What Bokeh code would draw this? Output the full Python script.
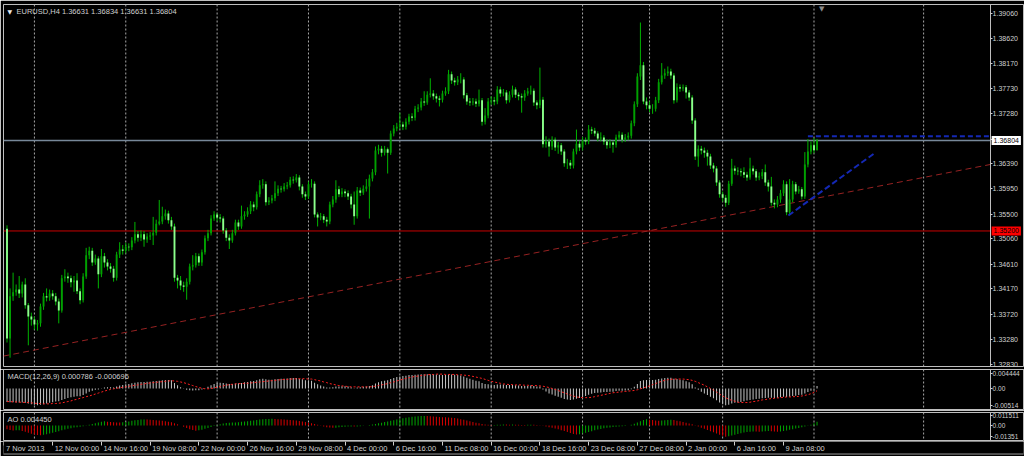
from bokeh.plotting import figure
from bokeh.models import (Range1d, FixedTicker, NumeralTickFormatter, Span, Label,
                          LinearAxis, ColumnDataSource, CustomJSTickFormatter)
from bokeh.layouts import column
from bokeh.embed import file_html
from bokeh.resources import INLINE
from bokeh.core.properties import value

# ---------------- data ----------------
symbol = "EURUSD,H4"

closes = [
    1.3329, 1.3404, 1.3411, 1.3416, 1.3409, 1.3425, 1.3388, 1.3368, 1.3363, 1.3354,
    1.3356, 1.3386, 1.3404, 1.3402, 1.3409, 1.3404, 1.3395, 1.3379, 1.3436, 1.3439,
    1.3436, 1.3429, 1.3432, 1.3413, 1.3397, 1.3439, 1.3477, 1.3485, 1.3464, 1.3471,
    1.3443, 1.3475, 1.3464, 1.3457, 1.3453, 1.3437, 1.3478, 1.3487, 1.3485, 1.3492,
    1.3491, 1.3503, 1.3514, 1.3508, 1.3514, 1.3505, 1.3510, 1.3512, 1.3517, 1.3533,
    1.3537, 1.3546, 1.3551, 1.3539, 1.3528, 1.3437, 1.3432, 1.3423, 1.3421, 1.3430,
    1.3457, 1.3459, 1.3475, 1.3464, 1.3482, 1.3507, 1.3516, 1.3542, 1.3549, 1.3544,
    1.3542, 1.3521, 1.3508, 1.3503, 1.3516, 1.3535, 1.3528, 1.3546, 1.3549, 1.3555,
    1.3567, 1.3562, 1.3585, 1.3601, 1.3603, 1.3571, 1.3574, 1.3578, 1.3587, 1.3595,
    1.3594, 1.3599, 1.3601, 1.3611, 1.3610, 1.3615, 1.3599, 1.3585, 1.3581, 1.3603,
    1.3604, 1.3549, 1.3544, 1.3546, 1.3540, 1.3537, 1.3567, 1.3576, 1.3594, 1.3585,
    1.3590, 1.3587, 1.3581, 1.3567, 1.3546, 1.3592, 1.3588, 1.3595, 1.3599, 1.3613,
    1.3624, 1.3663, 1.3666, 1.3659, 1.3665, 1.3659, 1.3693, 1.3702, 1.3705, 1.3709,
    1.3705, 1.3714, 1.3723, 1.3721, 1.3737, 1.3739, 1.3750, 1.3748, 1.3762, 1.3764,
    1.3759, 1.3755, 1.3753, 1.3764, 1.3768, 1.3798, 1.3787, 1.3784, 1.3789, 1.3789,
    1.3761, 1.3750, 1.3748, 1.3750, 1.3746, 1.3752, 1.3714, 1.3725, 1.3750, 1.3752,
    1.3750, 1.3771, 1.3764, 1.3766, 1.3752, 1.3762, 1.3771, 1.3762, 1.3759, 1.3757,
    1.3764, 1.3768, 1.3769, 1.3748, 1.3743, 1.3753, 1.3674, 1.3679, 1.3670, 1.3682,
    1.3668, 1.3672, 1.3661, 1.3640, 1.3641, 1.3636, 1.3661, 1.3675, 1.3668, 1.3681,
    1.3679, 1.3700, 1.3698, 1.3693, 1.3684, 1.3686, 1.3679, 1.3672, 1.3677, 1.3673,
    1.3686, 1.3691, 1.3682, 1.3686, 1.3689, 1.3711, 1.3745, 1.3794, 1.3814, 1.3750,
    1.3743, 1.3737, 1.3737, 1.3752, 1.3784, 1.3796, 1.3800, 1.3803, 1.3796, 1.3752,
    1.3775, 1.3773, 1.3775, 1.3766, 1.3757, 1.3716, 1.3652, 1.3666, 1.3663, 1.3659,
    1.3652, 1.3636, 1.3631, 1.3606, 1.3585, 1.3579, 1.3570, 1.3604, 1.3631, 1.3627,
    1.3626, 1.3624, 1.3620, 1.3615, 1.3631, 1.3626, 1.3615, 1.3617, 1.3624, 1.3606,
    1.3599, 1.3570, 1.3567, 1.3576, 1.3587, 1.3603, 1.3553, 1.3576, 1.3603, 1.3590,
    1.3594, 1.3581, 1.3638, 1.3661, 1.3672, 1.36631, 1.36804,
]

opens = [
    1.3524, 1.3329, 1.3404, 1.3411, 1.3416, 1.3409, 1.3425, 1.3388, 1.3368, 1.3363,
    1.3354, 1.3356, 1.3386, 1.3404, 1.3402, 1.3409, 1.3404, 1.3395, 1.3379, 1.3436,
    1.3439, 1.3436, 1.3429, 1.3432, 1.3413, 1.3397, 1.3439, 1.3477, 1.3485, 1.3464,
    1.3471, 1.3443, 1.3475, 1.3464, 1.3457, 1.3453, 1.3437, 1.3478, 1.3487, 1.3485,
    1.3492, 1.3491, 1.3503, 1.3514, 1.3508, 1.3514, 1.3505, 1.3510, 1.3512, 1.3517,
    1.3533, 1.3537, 1.3546, 1.3551, 1.3539, 1.3528, 1.3437, 1.3432, 1.3423, 1.3421,
    1.3430, 1.3457, 1.3459, 1.3475, 1.3464, 1.3482, 1.3507, 1.3516, 1.3542, 1.3549,
    1.3544, 1.3542, 1.3521, 1.3508, 1.3503, 1.3516, 1.3535, 1.3528, 1.3546, 1.3549,
    1.3555, 1.3567, 1.3562, 1.3585, 1.3601, 1.3603, 1.3571, 1.3574, 1.3578, 1.3587,
    1.3595, 1.3594, 1.3599, 1.3601, 1.3611, 1.3610, 1.3615, 1.3599, 1.3585, 1.3581,
    1.3603, 1.3604, 1.3549, 1.3544, 1.3546, 1.3540, 1.3537, 1.3567, 1.3576, 1.3594,
    1.3585, 1.3590, 1.3587, 1.3581, 1.3567, 1.3546, 1.3592, 1.3588, 1.3595, 1.3599,
    1.3613, 1.3624, 1.3663, 1.3666, 1.3659, 1.3665, 1.3659, 1.3693, 1.3702, 1.3705,
    1.3709, 1.3705, 1.3714, 1.3723, 1.3721, 1.3737, 1.3739, 1.3750, 1.3748, 1.3762,
    1.3764, 1.3759, 1.3755, 1.3753, 1.3764, 1.3768, 1.3798, 1.3787, 1.3784, 1.3789,
    1.3789, 1.3761, 1.3750, 1.3748, 1.3750, 1.3746, 1.3752, 1.3714, 1.3725, 1.3750,
    1.3752, 1.3750, 1.3771, 1.3764, 1.3766, 1.3752, 1.3762, 1.3771, 1.3762, 1.3759,
    1.3757, 1.3764, 1.3768, 1.3769, 1.3748, 1.3743, 1.3753, 1.3674, 1.3679, 1.3670,
    1.3682, 1.3668, 1.3672, 1.3661, 1.3640, 1.3641, 1.3636, 1.3661, 1.3675, 1.3668,
    1.3681, 1.3679, 1.3700, 1.3698, 1.3693, 1.3684, 1.3686, 1.3679, 1.3672, 1.3677,
    1.3673, 1.3686, 1.3691, 1.3682, 1.3686, 1.3689, 1.3711, 1.3745, 1.3794, 1.3814,
    1.3750, 1.3743, 1.3737, 1.3737, 1.3752, 1.3784, 1.3796, 1.3800, 1.3803, 1.3796,
    1.3752, 1.3775, 1.3773, 1.3775, 1.3766, 1.3757, 1.3716, 1.3652, 1.3666, 1.3663,
    1.3659, 1.3652, 1.3636, 1.3631, 1.3606, 1.3585, 1.3579, 1.3570, 1.3604, 1.3631,
    1.3627, 1.3626, 1.3624, 1.3620, 1.3615, 1.3631, 1.3626, 1.3615, 1.3617, 1.3624,
    1.3606, 1.3599, 1.3570, 1.3567, 1.3576, 1.3587, 1.3603, 1.3553, 1.3576, 1.3603,
    1.3590, 1.3594, 1.3581, 1.3638, 1.3661, 1.3672, 1.36631,
]

highs = [
    1.3530, 1.3418, 1.3446, 1.3425, 1.3440, 1.3430, 1.3436, 1.3392, 1.3375, 1.3368,
    1.3362, 1.3391, 1.3410, 1.3418, 1.3416, 1.3415, 1.3410, 1.3400, 1.3442, 1.3452,
    1.3446, 1.3441, 1.3440, 1.3445, 1.3418, 1.3445, 1.3490, 1.3492, 1.3490, 1.3478,
    1.3475, 1.3488, 1.3481, 1.3470, 1.3463, 1.3458, 1.3483, 1.3500, 1.3495, 1.3499,
    1.3498, 1.3509, 1.3536, 1.3520, 1.3521, 1.3520, 1.3516, 1.3518, 1.3545, 1.3540,
    1.3575, 1.3563, 1.3558, 1.3556, 1.3545, 1.3533, 1.3442, 1.3440, 1.3430, 1.3436,
    1.3462, 1.3477, 1.3481, 1.3480, 1.3487, 1.3512, 1.3522, 1.3548, 1.3555, 1.3552,
    1.3550, 1.3546, 1.3525, 1.3514, 1.3522, 1.3540, 1.3540, 1.3565, 1.3555, 1.3562,
    1.3573, 1.3572, 1.3590, 1.3610, 1.3612, 1.3608, 1.3580, 1.3584, 1.3608, 1.3601,
    1.3600, 1.3605, 1.3607, 1.3616, 1.3617, 1.3621, 1.3619, 1.3603, 1.3590, 1.3608,
    1.3612, 1.3608, 1.3553, 1.3552, 1.3550, 1.3545, 1.3572, 1.3582, 1.3610, 1.3600,
    1.3596, 1.3594, 1.3592, 1.3586, 1.3590, 1.3598, 1.3597, 1.3601, 1.3612, 1.3620,
    1.3630, 1.3670, 1.3673, 1.3671, 1.3671, 1.3668, 1.3698, 1.3708, 1.3712, 1.3730,
    1.3714, 1.3720, 1.3728, 1.3729, 1.3742, 1.3745, 1.3756, 1.3768, 1.3768, 1.3791,
    1.3770, 1.3764, 1.3760, 1.3769, 1.3775, 1.3806, 1.3803, 1.3792, 1.3795, 1.3800,
    1.3793, 1.3765, 1.3756, 1.3756, 1.3755, 1.3771, 1.3756, 1.3738, 1.3756, 1.3759,
    1.3758, 1.3777, 1.3776, 1.3772, 1.3770, 1.3768, 1.3778, 1.3775, 1.3766, 1.3764,
    1.3770, 1.3774, 1.3778, 1.3773, 1.3752, 1.3810, 1.3758, 1.3688, 1.3684, 1.3688,
    1.3686, 1.3678, 1.3676, 1.3665, 1.3648, 1.3646, 1.3666, 1.3700, 1.3680, 1.3687,
    1.3686, 1.3708, 1.3705, 1.3703, 1.3697, 1.3695, 1.3690, 1.3683, 1.3683, 1.3680,
    1.3691, 1.3697, 1.3695, 1.3692, 1.3695, 1.3716, 1.3750, 1.3800, 1.3890, 1.3820,
    1.3757, 1.3750, 1.3745, 1.3758, 1.3790, 1.3818, 1.3808, 1.3812, 1.3808, 1.3800,
    1.3782, 1.3780, 1.3780, 1.3779, 1.3770, 1.3761, 1.3720, 1.3672, 1.3671, 1.3668,
    1.3664, 1.3657, 1.3641, 1.3635, 1.3610, 1.3590, 1.3584, 1.3609, 1.3648, 1.3636,
    1.3633, 1.3631, 1.3633, 1.3625, 1.3650, 1.3636, 1.3630, 1.3624, 1.3630, 1.3638,
    1.3611, 1.3616, 1.3576, 1.3582, 1.3593, 1.3610, 1.3608, 1.3612, 1.3609, 1.3607,
    1.3600, 1.3598, 1.3660, 1.3683, 1.3679, 1.3685, 1.36834,
]

lows = [
    1.3322, 1.3295, 1.3396, 1.3405, 1.3401, 1.3402, 1.3382, 1.3317, 1.3352, 1.3345,
    1.3343, 1.3350, 1.3380, 1.3395, 1.3396, 1.3398, 1.3388, 1.3356, 1.3375, 1.3430,
    1.3428, 1.3420, 1.3412, 1.3408, 1.3390, 1.3393, 1.3435, 1.3470, 1.3458, 1.3460,
    1.3418, 1.3438, 1.3455, 1.3450, 1.3446, 1.3430, 1.3432, 1.3472, 1.3478, 1.3480,
    1.3484, 1.3486, 1.3498, 1.3501, 1.3502, 1.3492, 1.3499, 1.3504, 1.3495, 1.3512,
    1.3530, 1.3532, 1.3540, 1.3533, 1.3522, 1.3430, 1.3418, 1.3415, 1.3412, 1.3398,
    1.3425, 1.3450, 1.3455, 1.3458, 1.3458, 1.3478, 1.3502, 1.3512, 1.3538, 1.3537,
    1.3535, 1.3515, 1.3502, 1.3488, 1.3499, 1.3512, 1.3522, 1.3524, 1.3540, 1.3545,
    1.3550, 1.3555, 1.3558, 1.3580, 1.3595, 1.3565, 1.3566, 1.3569, 1.3573, 1.3582,
    1.3588, 1.3590, 1.3594, 1.3597, 1.3604, 1.3606, 1.3592, 1.3579, 1.3575, 1.3577,
    1.3597, 1.3544, 1.3528, 1.3539, 1.3534, 1.3528, 1.3532, 1.3562, 1.3570, 1.3580,
    1.3580, 1.3580, 1.3575, 1.3560, 1.3531, 1.3542, 1.3582, 1.3584, 1.3590, 1.3542,
    1.3608, 1.3619, 1.3656, 1.3652, 1.3654, 1.3622, 1.3655, 1.3688, 1.3697, 1.3700,
    1.3699, 1.3700, 1.3709, 1.3715, 1.3716, 1.3731, 1.3734, 1.3742, 1.3744, 1.3757,
    1.3753, 1.3748, 1.3741, 1.3748, 1.3760, 1.3763, 1.3781, 1.3778, 1.3779, 1.3782,
    1.3755, 1.3744, 1.3742, 1.3743, 1.3740, 1.3741, 1.3707, 1.3709, 1.3720, 1.3744,
    1.3743, 1.3745, 1.3758, 1.3759, 1.3746, 1.3748, 1.3757, 1.3756, 1.3752, 1.3730,
    1.3751, 1.3760, 1.3762, 1.3742, 1.3736, 1.3738, 1.3668, 1.3668, 1.3652, 1.3664,
    1.3662, 1.3657, 1.3655, 1.3634, 1.3630, 1.3630, 1.3631, 1.3656, 1.3662, 1.3663,
    1.3673, 1.3674, 1.3692, 1.3688, 1.3679, 1.3679, 1.3673, 1.3666, 1.3667, 1.3659,
    1.3668, 1.3681, 1.3677, 1.3678, 1.3681, 1.3684, 1.3706, 1.3740, 1.3788, 1.3745,
    1.3736, 1.3731, 1.3728, 1.3732, 1.3747, 1.3780, 1.3790, 1.3795, 1.3790, 1.3746,
    1.3748, 1.3767, 1.3768, 1.3755, 1.3751, 1.3710, 1.3646, 1.3634, 1.3656, 1.3650,
    1.3636, 1.3630, 1.3624, 1.3600, 1.3579, 1.3572, 1.3563, 1.3566, 1.3600, 1.3620,
    1.3619, 1.3617, 1.3614, 1.3609, 1.3611, 1.3620, 1.3609, 1.3610, 1.3612, 1.3600,
    1.3590, 1.3565, 1.3560, 1.3562, 1.3570, 1.3582, 1.3548, 1.3549, 1.3571, 1.3585,
    1.3586, 1.3576, 1.3577, 1.3633, 1.3656, 1.3658, 1.36631,
]

macd_main = [
    -0.0041, -0.0042, -0.0042, -0.0043, -0.0043, -0.0043, -0.0044, -0.0046, -0.0048, -0.0050,
    -0.0051, -0.0050, -0.0048, -0.0046, -0.0044, -0.0042, -0.0040, -0.0039, -0.0035, -0.0032,
    -0.0029, -0.0027, -0.0025, -0.0024, -0.0024, -0.0020, -0.0015, -0.0010, -0.0007, -0.0004,
    -0.0003, 0.0001, 0.0003, 0.0004, 0.0004, 0.0003, 0.0006, 0.0009, 0.0011, 0.0013,
    0.0014, 0.0016, 0.0018, 0.0019, 0.0020, 0.0020, 0.0021, 0.0021, 0.0022, 0.0023,
    0.0024, 0.0025, 0.0026, 0.0026, 0.0025, 0.0017, 0.0010, 0.0004, -0.0001, -0.0004,
    -0.0005, -0.0006, -0.0005, -0.0005, -0.0003, 0.0001, 0.0005, 0.0010, 0.0014, 0.0017,
    0.0018, 0.0017, 0.0015, 0.0014, 0.0014, 0.0015, 0.0016, 0.0017, 0.0019, 0.0020,
    0.0022, 0.0023, 0.0025, 0.0028, 0.0030, 0.0028, 0.0027, 0.0027, 0.0028, 0.0029,
    0.0030, 0.0030, 0.0031, 0.0032, 0.0032, 0.0032, 0.0030, 0.0028, 0.0025, 0.0025,
    0.0024, 0.0018, 0.0013, 0.0009, 0.0006, 0.0003, 0.0003, 0.0004, 0.0006, 0.0006,
    0.0007, 0.0007, 0.0006, 0.0004, 0.0001, 0.0003, 0.0004, 0.0005, 0.0006, 0.0008,
    0.0010, 0.0015, 0.0019, 0.0022, 0.0024, 0.0025, 0.0029, 0.0032, 0.0035, 0.0037,
    0.0038, 0.0039, 0.0041, 0.0041, 0.0042, 0.0043, 0.0044, 0.0044, 0.0044, 0.0044,
    0.0044, 0.0043, 0.0042, 0.0041, 0.0041, 0.0043, 0.0043, 0.0042, 0.0041, 0.0040,
    0.0037, 0.0033, 0.0030, 0.0027, 0.0024, 0.0022, 0.0017, 0.0014, 0.0013, 0.0012,
    0.0011, 0.0012, 0.0012, 0.0012, 0.0011, 0.0011, 0.0011, 0.0010, 0.0009, 0.0008,
    0.0008, 0.0008, 0.0009, 0.0008, 0.0006, 0.0006, -0.0003, -0.0009, -0.0015, -0.0018,
    -0.0022, -0.0025, -0.0028, -0.0032, -0.0034, -0.0035, -0.0034, -0.0031, -0.0029, -0.0026,
    -0.0023, -0.0019, -0.0016, -0.0014, -0.0013, -0.0012, -0.0011, -0.0011, -0.0010, -0.0010,
    -0.0008, -0.0007, -0.0007, -0.0006, -0.0005, -0.0002, 0.0005, 0.0014, 0.0023, 0.0025,
    0.0026, 0.0026, 0.0026, 0.0027, 0.0029, 0.0031, 0.0032, 0.0033, 0.0033, 0.0030,
    0.0029, 0.0027, 0.0025, 0.0022, 0.0019, 0.0013, 0.0003, -0.0004, -0.0010, -0.0015,
    -0.0020, -0.0025, -0.0030, -0.0036, -0.0043, -0.0048, -0.0051, -0.0050, -0.0046, -0.0044,
    -0.0043, -0.0041, -0.0039, -0.0037, -0.0035, -0.0034, -0.0032, -0.0031, -0.0030, -0.0029,
    -0.0028, -0.0028, -0.0029, -0.0028, -0.0027, -0.0025, -0.0026, -0.0025, -0.0023, -0.0022,
    -0.0020, -0.0019, -0.0015, -0.0011, -0.0007, -0.0004, 0.000786,
]

macd_signal = [
    -0.0040, -0.0040, -0.0041, -0.0041, -0.0042, -0.0042, -0.0043, -0.0043, -0.0044, -0.0045,
    -0.0046, -0.0046, -0.0047, -0.0047, -0.0047, -0.0046, -0.0046, -0.0045, -0.0044, -0.0042,
    -0.0040, -0.0038, -0.0035, -0.0033, -0.0030, -0.0028, -0.0025, -0.0023, -0.0020, -0.0017,
    -0.0014, -0.0011, -0.0008, -0.0005, -0.0003, -0.0001, 0.0001, 0.0002, 0.0004, 0.0005,
    0.0007, 0.0008, 0.0010, 0.0011, 0.0013, 0.0014, 0.0016, 0.0017, 0.0018, 0.0019,
    0.0020, 0.0021, 0.0022, 0.0023, 0.0024, 0.0023, 0.0022, 0.0020, 0.0018, 0.0015,
    0.0012, 0.0009, 0.0006, 0.0003, 0.0001, -0.0001, -0.0001, 0.0000, 0.0002, 0.0004,
    0.0006, 0.0008, 0.0010, 0.0012, 0.0013, 0.0014, 0.0015, 0.0015, 0.0016, 0.0016,
    0.0017, 0.0018, 0.0019, 0.0020, 0.0021, 0.0022, 0.0023, 0.0024, 0.0025, 0.0026,
    0.0027, 0.0028, 0.0028, 0.0029, 0.0029, 0.0030, 0.0030, 0.0030, 0.0030, 0.0029,
    0.0029, 0.0027, 0.0025, 0.0023, 0.0020, 0.0018, 0.0015, 0.0013, 0.0011, 0.0009,
    0.0008, 0.0007, 0.0006, 0.0005, 0.0005, 0.0005, 0.0005, 0.0005, 0.0005, 0.0005,
    0.0006, 0.0007, 0.0009, 0.0011, 0.0013, 0.0015, 0.0018, 0.0020, 0.0023, 0.0026,
    0.0028, 0.0031, 0.0033, 0.0035, 0.0037, 0.0038, 0.0040, 0.0041, 0.0042, 0.0043,
    0.0043, 0.0044, 0.0044, 0.0044, 0.0043, 0.0043, 0.0043, 0.0043, 0.0042, 0.0042,
    0.0041, 0.0040, 0.0039, 0.0037, 0.0035, 0.0033, 0.0031, 0.0028, 0.0025, 0.0022,
    0.0020, 0.0018, 0.0016, 0.0014, 0.0013, 0.0012, 0.0012, 0.0011, 0.0011, 0.0011,
    0.0010, 0.0010, 0.0009, 0.0009, 0.0009, 0.0008, 0.0007, 0.0005, 0.0003, 0.0000,
    -0.0003, -0.0006, -0.0010, -0.0013, -0.0017, -0.0020, -0.0023, -0.0026, -0.0027, -0.0028,
    -0.0028, -0.0028, -0.0027, -0.0025, -0.0023, -0.0021, -0.0019, -0.0017, -0.0015, -0.0013,
    -0.0012, -0.0011, -0.0010, -0.0009, -0.0008, -0.0007, -0.0006, -0.0004, -0.0001, 0.0002,
    0.0005, 0.0008, 0.0012, 0.0015, 0.0019, 0.0022, 0.0025, 0.0027, 0.0028, 0.0029,
    0.0029, 0.0029, 0.0029, 0.0028, 0.0027, 0.0025, 0.0022, 0.0018, 0.0014, 0.0010,
    0.0005, 0.0000, -0.0005, -0.0011, -0.0017, -0.0023, -0.0028, -0.0033, -0.0036, -0.0039,
    -0.0042, -0.0043, -0.0043, -0.0043, -0.0042, -0.0040, -0.0039, -0.0037, -0.0035, -0.0034,
    -0.0032, -0.0031, -0.0030, -0.0029, -0.0028, -0.0027, -0.0026, -0.0026, -0.0025, -0.0025,
    -0.0024, -0.0023, -0.0021, -0.0019, -0.0016, -0.0012, -0.000696,
]

ao_values = [
    -0.0045, -0.0055, -0.0060, -0.0058, -0.0056, -0.0065, -0.0075, -0.0088, -0.0098, -0.0108,
    -0.0115, -0.0118, -0.0112, -0.0104, -0.0095, -0.0086, -0.0077, -0.0068, -0.0058, -0.0048,
    -0.0040, -0.0032, -0.0025, -0.0020, -0.0016, -0.0010, -0.0003, 0.0008, 0.0018, 0.0028,
    0.0036, 0.0045, 0.0050, 0.0046, 0.0043, 0.0040, 0.0037, 0.0035, 0.0038, 0.0043,
    0.0049, 0.0056, 0.0062, 0.0067, 0.0071, 0.0073, 0.0071, 0.0068, 0.0066, 0.0063,
    0.0060, 0.0056, 0.0051, 0.0045, 0.0038, 0.0028, 0.0015, 0.0000, -0.0015, -0.0030,
    -0.0045, -0.0055, -0.0062, -0.0058, -0.0050, -0.0040, -0.0030, -0.0018, -0.0006, 0.0006,
    0.0016, 0.0024, 0.0030, 0.0033, 0.0035, 0.0037, 0.0040, 0.0044, 0.0048, 0.0052,
    0.0057, 0.0061, 0.0066, 0.0071, 0.0075, 0.0077, 0.0079, 0.0080, 0.0078, 0.0076,
    0.0074, 0.0071, 0.0068, 0.0066, 0.0063, 0.0059, 0.0054, 0.0048, 0.0041, 0.0034,
    0.0026, 0.0017, 0.0008, -0.0002, -0.0012, -0.0020, -0.0025, -0.0028, -0.0026, -0.0022,
    -0.0018, -0.0015, -0.0013, -0.0012, -0.0013, -0.0011, -0.0008, -0.0004, 0.0000, 0.0005,
    0.0011, 0.0019, 0.0027, 0.0034, 0.0041, 0.0048, 0.0056, 0.0064, 0.0072, 0.0080,
    0.0087, 0.0094, 0.0100, 0.0105, 0.0109, 0.0112, 0.0114, 0.0115, 0.0113, 0.0110,
    0.0108, 0.0106, 0.0103, 0.0100, 0.0098, 0.0097, 0.0094, 0.0089, 0.0083, 0.0076,
    0.0068, 0.0060, 0.0051, 0.0042, 0.0034, 0.0026, 0.0018, 0.0012, 0.0008, 0.0005,
    0.0006, 0.0008, 0.0010, 0.0012, 0.0011, 0.0010, 0.0011, 0.0010, 0.0008, 0.0007,
    0.0007, 0.0008, 0.0009, 0.0008, 0.0006, 0.0003, -0.0004, -0.0012, -0.0020, -0.0028,
    -0.0037, -0.0046, -0.0056, -0.0067, -0.0078, -0.0090, -0.0101, -0.0108, -0.0104, -0.0097,
    -0.0088, -0.0078, -0.0068, -0.0058, -0.0049, -0.0041, -0.0034, -0.0028, -0.0023, -0.0019,
    -0.0016, -0.0013, -0.0010, -0.0006, -0.0001, 0.0008, 0.0020, 0.0035, 0.0052, 0.0065,
    0.0074, 0.0070, 0.0065, 0.0060, 0.0058, 0.0060, 0.0063, 0.0067, 0.0069, 0.0065,
    0.0058, 0.0050, 0.0041, 0.0033, 0.0024, 0.0014, 0.0002, -0.0012, -0.0026, -0.0040,
    -0.0054, -0.0068, -0.0082, -0.0096, -0.0110, -0.0124, -0.0135, -0.0130, -0.0120, -0.0110,
    -0.0101, -0.0092, -0.0085, -0.0079, -0.0074, -0.0071, -0.0073, -0.0075, -0.0072, -0.0069,
    -0.0067, -0.0068, -0.0071, -0.0074, -0.0073, -0.0066, -0.0059, -0.0052, -0.0045, -0.0037,
    -0.0029, -0.0021, -0.0013, -0.0004, 0.0010, 0.0028, 0.004450,
]

time_labels = ["7 Nov 2013", "12 Nov 00:00", "14 Nov 16:00", "19 Nov 08:00", "22 Nov 00:00",
               "26 Nov 16:00", "29 Nov 08:00", "4 Dec 00:00", "6 Dec 16:00", "11 Dec 08:00",
               "16 Dec 00:00", "18 Dec 16:00", "23 Dec 08:00", "27 Dec 08:00", "2 Jan 00:00",
               "6 Jan 16:00", "9 Jan 08:00"]
time_label_bars = [-1, 15, 31, 47, 63, 79, 95, 111, 127, 143, 159, 175, 191, 207, 223, 239, 255]
grid_bars = [9, 39, 69, 99, 129, 159, 189, 211, 235, 265, 301]

price_ticks = [1.32830, 1.33280, 1.33720, 1.34170, 1.34610, 1.35060, 1.35500, 1.35950,
               1.36390, 1.36830, 1.37280, 1.37730, 1.38170, 1.38620, 1.39060]
macd_ticks = [-0.00514, 0.0, 0.004444]
macd_tick_labels = ["-0.00514", "0.00", "0.004444"]
ao_ticks = [-0.01351, 0.0, 0.011511]
ao_tick_labels = ["-0.01351", "0.00", "0.011511"]

support_level = 1.35200
resistance_level = 1.36880
resistance_start_bar = 263
trend_red_x = [-1.15, 323.0]
trend_red_y = [1.32979, 1.36381]
trend_blue_x = [256.6, 285.2]
trend_blue_y = [1.35475, 1.36593]
macd_header = "MACD(12,26,9) 0.000786 -0.000696"
ao_header = "AO 0.004450"
chart_shift_bar = 267.5

# ---------------- styling / layout ----------------
BG = "#000000"
FRAME = "#BEBEBE"
TXT = "#D0D0D0"
FONT = "Liberation Sans"
FS = "7.5px"
AXFS = "7px"
SUBFS = "6.5px"
BULL = "#00A000"
BEAR = "#8CFF8C"
WICK = "#00B400"
BLUE = "#1428B4"

W = 1024
LB, RB = 3, 1
X_START, X_END = -1.15, 333.8     # frame spans the price-scale strip too
AXIS_X = 323.0                    # where the price scale line sits
x_range = Range1d(X_START, X_END)


def pane(height, y_range, top, bottom):
    p = figure(width=W, height=height, x_range=x_range, y_range=y_range,
               output_backend="svg", toolbar_location=None,
               x_axis_location=None, y_axis_location=None,
               min_border_left=LB, min_border_right=RB,
               min_border_top=top, min_border_bottom=bottom,
               background_fill_color=BG, border_fill_color=BG,
               outline_line_color=FRAME, outline_line_width=1)
    p.grid.grid_line_color = None
    for g in grid_bars:
        p.add_layout(Span(location=g, dimension="height", line_color="#A8A8A8",
                          line_dash="2 2", line_width=1, level="underlay"))
    return p


def right_axis(p, ticks, overrides=None, fmt=None, size=AXFS):
    ax = LinearAxis(ticker=FixedTicker(ticks=ticks), fixed_location=AXIS_X,
                    axis_line_color=FRAME, major_tick_line_color=TXT,
                    major_tick_in=0, major_tick_out=2, minor_tick_line_color=None,
                    major_label_standoff=0, major_label_text_color=TXT,
                    major_label_text_font=FONT, major_label_text_font_size=size)
    if fmt is not None:
        ax.formatter = fmt
    if overrides is not None:
        ax.major_label_overrides = overrides
    p.add_layout(ax, "right")


def text_label(p, x, y, text, **kw):
    opts = dict(x_units="screen", y_units="screen", text_color=TXT, text_font=FONT,
                text_font_size=FS, text_baseline="top", text_align="left")
    opts.update(kw)
    p.add_layout(Label(x=x, y=y, text=text, **opts))


bars = list(range(len(closes)))

# ---------------- main price pane ----------------
MAIN_H, MAIN_T, MAIN_B = 369, 4, 3
main = pane(MAIN_H, Range1d(1.32794, 1.39220), MAIN_T, MAIN_B)
main_fh = MAIN_H - MAIN_T - MAIN_B

main.segment(x0=[X_START], y0=[support_level], x1=[AXIS_X], y1=[support_level],
             line_color="#C80000", line_width=1)
main.segment(x0=[X_START], y0=[closes[-1]], x1=[AXIS_X], y1=[closes[-1]],
             line_color="#778899", line_width=1.5)
main.line(trend_red_x, trend_red_y, line_color="#962222", line_dash="6 4", line_width=1)

src = ColumnDataSource(dict(
    x=bars, o=opens, h=highs, l=lows, c=closes,
    top=[max(a, b) for a, b in zip(opens, closes)],
    bot=[min(a, b) for a, b in zip(opens, closes)],
    fill=[BEAR if c < o else BULL for o, c in zip(opens, closes)],
))
main.segment(x0="x", y0="h", x1="x", y1="l", source=src, line_color=WICK, line_width=1)
main.vbar(x="x", width=0.62, top="top", bottom="bot", source=src,
          fill_color="fill", line_color=None)

main.line(trend_blue_x, trend_blue_y, line_color=BLUE, line_dash="6 3", line_width=2)
main.segment(x0=[resistance_start_bar], y0=[resistance_level], x1=[AXIS_X],
             y1=[resistance_level], line_color=BLUE, line_dash="5 3", line_width=2)

right_axis(main, price_ticks, fmt=NumeralTickFormatter(format="0.00000"))

title_text = f"{symbol}  {opens[-1]:.5f} {highs[-1]:.5f} {lows[-1]:.5f} {closes[-1]:.5f}"
text_label(main, 4, main_fh - 3, "\u25BC", text_font="DejaVu Sans", text_font_size="6px",
           text_color="#E8E8E8")
text_label(main, 13, main_fh - 2, title_text)
main.add_layout(Label(x=chart_shift_bar, y=main_fh, x_units="data", y_units="screen",
                      text="\u25BC", text_font="DejaVu Sans", text_font_size="7px",
                      text_color="#8A8A8A", text_align="center", text_baseline="top"))

main.add_layout(Label(x=AXIS_X, y=closes[-1], x_units="data", y_units="data", x_offset=1,
                      text=f"{closes[-1]:.5f}", text_color="#000000", text_font=FONT,
                      text_font_size=AXFS, text_baseline="middle", text_align="left",
                      background_fill_color="#FFFFFF", padding=2, level="overlay"))
main.add_layout(Label(x=AXIS_X, y=support_level, x_units="data", y_units="data", x_offset=1,
                      text=f"{support_level:.5f}", text_color="#000000", text_font=FONT,
                      text_font_size=AXFS, text_baseline="middle", text_align="left",
                      background_fill_color="#FF0000", padding=2, level="overlay"))

# ---------------- MACD pane ----------------
MACD_H, MACD_T, MACD_B = 41, 0, 1
macd = pane(MACD_H, Range1d(-0.00643, 0.00582), MACD_T, MACD_B)
macd_fh = MACD_H - MACD_T - MACD_B
macd.vbar(x=bars, width=0.34, top=macd_main, bottom=0, fill_color="#C0C0C0", line_color=None)
macd.line(bars, macd_signal, line_color="#FF2020", line_dash="2 2", line_width=1)
right_axis(macd, macd_ticks, overrides=dict(zip(macd_ticks, macd_tick_labels)), size=SUBFS)
text_label(macd, 4, macd_fh - 2, macd_header)

# ---------------- AO pane ----------------
AO_H, AO_T, AO_B = 31, 2, 1
ao = pane(AO_H, Range1d(-0.0180, 0.0156), AO_T, AO_B)
ao_fh = AO_H - AO_T - AO_B
ao_colors = ["#D00000" if i == 0 or ao_values[i] <= ao_values[i - 1] else "#00A000"
             for i in range(len(ao_values))]
ao.vbar(x=bars, width=0.34, top=ao_values, bottom=0, fill_color=ao_colors, line_color=None)
right_axis(ao, ao_ticks, overrides=dict(zip(ao_ticks, ao_tick_labels)), size=SUBFS)
text_label(ao, 4, ao_fh - 2, ao_header)

# ---------------- time scale strip ----------------
STRIP_H = 15
strip = figure(width=W, height=STRIP_H, x_range=x_range, y_range=Range1d(0, 1),
               output_backend="svg", toolbar_location=None,
               x_axis_location=None, y_axis_location=None,
               min_border_left=LB, min_border_right=RB, min_border_top=0, min_border_bottom=2,
               background_fill_color=BG, border_fill_color=BG, outline_line_color=None)
strip.grid.grid_line_color = None
strip.text(x=time_label_bars, y=[0.45] * len(time_labels), text=time_labels,
           text_align="left", text_baseline="middle", text_color=TXT,
           text_font=value(FONT), text_font_size=value(FS), x_offset=2)
tick_axis = LinearAxis(ticker=FixedTicker(ticks=time_label_bars), fixed_location=1.0,
                       axis_line_color=None, major_tick_line_color=TXT,
                       major_tick_in=4, major_tick_out=0, minor_tick_line_color=None,
                       formatter=CustomJSTickFormatter(code="return ''"),
                       major_label_text_font_size="0px")
strip.add_layout(tick_axis, "above")
strip.add_layout(Span(location=0.04, dimension="width", line_color="#8C8C8C", line_width=1))

layout = column(main, macd, ao, strip, spacing=0)
open("out.html", "w").write(file_html(layout, INLINE))
